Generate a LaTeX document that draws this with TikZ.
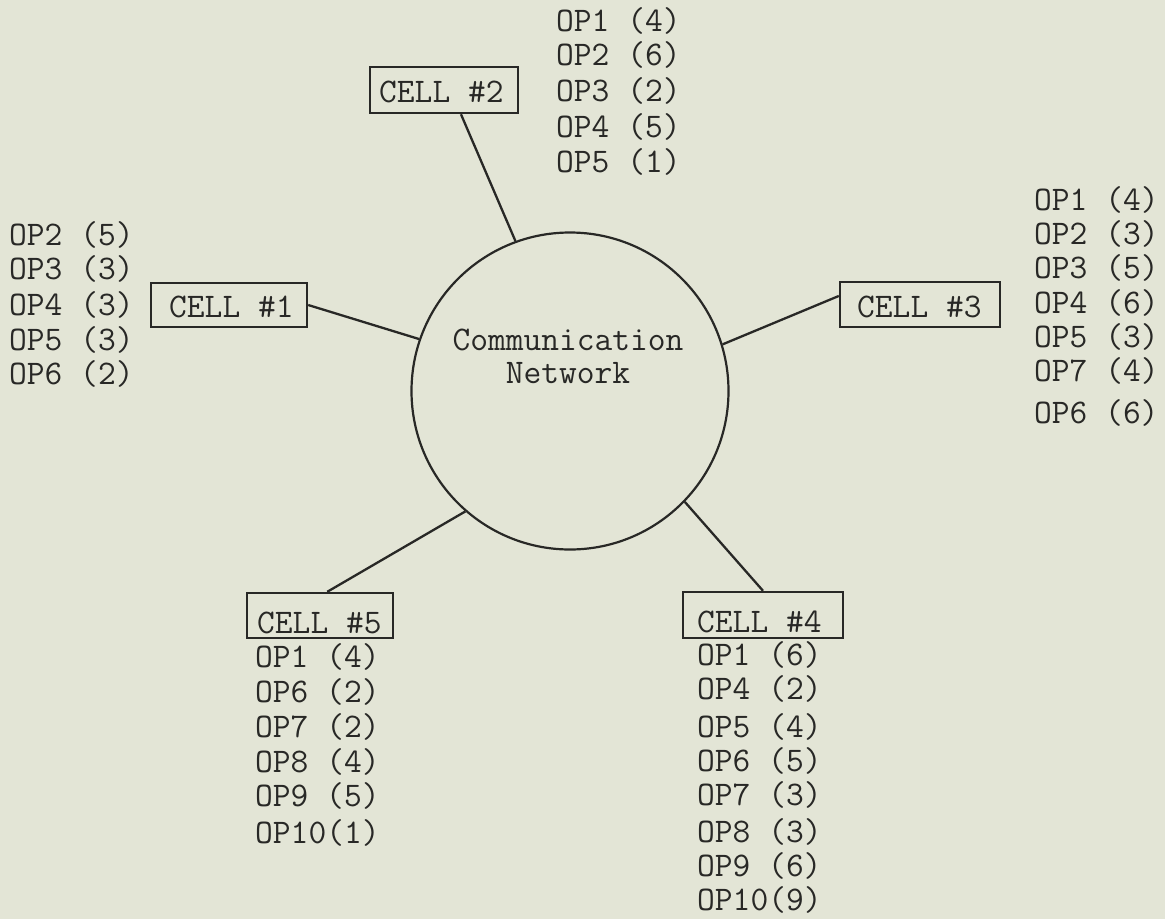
\documentclass[tikz,border=0pt]{standalone}
\usepackage{fontspec}
\definecolor{paper}{RGB}{227,229,214}
\definecolor{ink}{RGB}{40,40,38}
\begin{document}
\begin{tikzpicture}[x=1pt,y=-1pt,
  every node/.style={text=ink},
  tw/.style={font=\ttfamily\fontsize{34.5}{40}\selectfont, inner sep=0pt, anchor=base west},
  netlbl/.style={font=\ttfamily\fontsize{34.5}{40}\selectfont, inner sep=0pt, anchor=base},
  cellbox/.style={draw=ink, line width=2.4pt, rectangle, inner sep=0pt},
  netcircle/.style={draw=ink, line width=2.2pt, circle, inner sep=0pt, minimum size=317pt},
  link/.style={draw=ink, line width=2.3pt}]
\fill[paper] (0,0) rectangle (1165,919);
\useasboundingbox (0,0) rectangle (1165,919);

% network
\node[netcircle] (net) at (570,391) {};
\node[netlbl] (netA) at (568,350) {Communication};
\node[netlbl] (netB) at (568,383) {Network};

% cell boxes
\node[cellbox, minimum width=148pt, minimum height=46pt] (c2) at (444,90) {};
\node[cellbox, minimum width=156pt, minimum height=44pt] (c1) at (229,305) {};
\node[cellbox, minimum width=160pt, minimum height=45pt] (c3) at (920,304.5) {};
\node[cellbox, minimum width=160pt, minimum height=46pt] (c4) at (763,615) {};
\node[cellbox, minimum width=146pt, minimum height=45pt] (c5) at (320,615.5) {};

% cell labels
\node[tw] (t2) at (379,102) {CELL \#2};
\node[tw] (t1) at (169,317) {CELL \#1};
\node[tw] (t3) at (857,317) {CELL \#3};
\node[tw] (t4) at (697,632) {CELL \#4};
\node[tw] (t5) at (257,633) {CELL \#5};

% connectors
\draw[link] (c2.-55) -- (net.110);
\draw[link] (c1.east) -- (net.161);
\draw[link] (c3.174) -- (net.17);
\draw[link] (c4.north) -- (net.-44);
\draw[link] (c5.73) -- (net.-131.5);

% operation lists
\foreach \t/\y [count=\i] in {OP1 (4)/31, OP2 (6)/65, OP3 (2)/101, OP4 (5)/137, OP5 (1)/172}
  \node[tw] (l2-\i) at (556,\y) {\t};
\foreach \t/\y [count=\i] in {OP2 (5)/245, OP3 (3)/279, OP4 (3)/315, OP5 (3)/350, OP6 (2)/384}
  \node[tw] (l1-\i) at (9,\y) {\t};
\foreach \t/\y [count=\i] in {OP1 (4)/210, OP2 (3)/244, OP3 (5)/278, OP4 (6)/313, OP5 (3)/347, OP7 (4)/381, OP6 (6)/423}
  \node[tw] (l3-\i) at (1034,\y) {\t};
\foreach \t/\y [count=\i] in {OP1 (6)/665, OP4 (2)/699, OP5 (4)/737, OP6 (5)/771, OP7 (3)/805, OP8 (3)/842, OP9 (6)/876, OP10(9)/910}
  \node[tw] (l4-\i) at (697,\y) {\t};
\foreach \t/\y [count=\i] in {OP1 (4)/667, OP6 (2)/702, OP7 (2)/737, OP8 (4)/772, OP9 (5)/806, OP10(1)/843}
  \node[tw] (l5-\i) at (255,\y) {\t};
\end{tikzpicture}
\end{document}
